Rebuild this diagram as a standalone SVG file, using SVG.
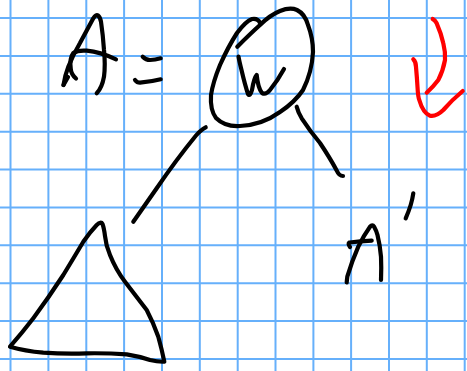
<svg xmlns="http://www.w3.org/2000/svg" width="467" height="371" viewBox="0 0 467 371">
<style>
.g{stroke:#66b0fb;stroke-width:2;fill:none}
.k{stroke:#000;stroke-width:4.2;fill:none;stroke-linecap:round;stroke-linejoin:round}
.r{stroke:#f00;stroke-width:4.2;fill:none;stroke-linecap:round;stroke-linejoin:round}
</style>
<rect width="467" height="371" fill="#fff"/>
<g id="grid" class="g">
<path d="M10.5 0V371M48.4 0V371M86.3 0V371M124.1 0V371M162 0V371M199.8 0V371M237.7 0V371M275.5 0V371M313.4 0V371M351.1 0V371M389 0V371M426.8 0V371M464.7 0V371"/>
<path d="M0 18H467M0 55.9H467M0 93.8H467M0 131.7H467M0 169.5H467M0 207.4H467M0 245.3H467M0 283.2H467M0 321H467M0 358.9H467"/>
</g>
<g id="letter-a">
<path class="k" d="M63.5 85Q65 75 68.3 66.7Q73 55 80 43Q87 30 93.3 18.3Q96 14 98 15.5Q100 17 101 21.7Q103 35 104 50Q105.5 65 104 76.7Q102 88 96.7 93.3"/>
<path class="k" d="M76 78.5Q71 74 70.7 68.3Q69.5 58 73.3 53Q78 50 86.7 50.7Q100 52 116 59.3"/>
<path class="k" d="M63.5 85L68 77"/>
</g>
<g id="equals">
<path class="k" d="M142.7 56.7Q146 60 150 60Q155 60 160.7 58.3"/>
<path class="k" d="M135 80Q137 82.7 140 82.7Q150 82 160.7 79.3"/>
</g>
<g id="circled-w">
<path class="k" d="M237.3 46.7Q250 34 260 25Q270 15 280 11Q290 7 297 10Q305 14 308 25Q313 38 313 52Q312 72 303 90Q295 102 280 112Q262 125 240 126Q225 127 216 118Q210 110 211 95Q213 82 220 65Q228 47 237 33Q246 21 252 19Q258 18 260 23"/>
<path class="k" d="M238.5 56.5Q239 60 241.5 70Q245 85 248 94Q250 97 252 90Q254 78 256.7 75Q258 88 262 93Q266 95 270 90Q278 80 284 69"/>
</g>
<g id="connectors">
<path class="k" d="M205.7 127.3Q201 129.5 196 135.5Q176 160 156.7 188.3Q145 205 133.3 221.7"/>
<path class="k" d="M296.7 106.7Q298 112 301.7 118.3Q310 131 320 143Q330 158 336.7 170.5Q339 176 343 176"/>
</g>
<g id="triangle">
<path class="k" d="M10 346.7Q22 333 33.3 318.3Q49 297 63.3 275Q73 259 83.3 241.7Q90 232 96.7 225Q101 221 102.5 224Q104 228 105 236Q106 246 110 255Q116 270 125 281.7Q136 296 146.7 310Q153 322 158.3 336.7Q162 350 164.3 361.7Q158 362 150 360Q138 356 126.7 354.3Q108 353 86.7 353.3Q65 354 43.3 352.7Q25 351 10 346.7Z"/>
</g>
<g id="a-prime">
<path class="k" d="M346.7 282.5Q347 279 347.3 276.7Q352 261 358.3 246.7Q364 235 370 226.7Q372.5 224 374 226.5Q376.5 231 377.5 235Q380 245 381 256.7Q381.5 268 381 280"/>
<path class="k" d="M350 247Q347.5 243.5 349.5 242.5Q360 241.5 371.7 240.7"/>
<path class="k" d="M413.3 193.3Q412.5 199 410.7 205Q408.5 212 405.7 218.3"/>
</g>
<g id="red-arrow">
<path class="r" d="M432.7 19Q435 20 436.7 23.3Q441 33 443.3 43.3Q445.5 52 445 60Q443 71 438.3 80Q433 87 426.7 92.7"/>
<path class="r" d="M413.3 59.3Q416 62 416 67Q417 78 417.5 87Q418 97 419.3 100Q423 113 430 115.7Q436 117 443.3 110Q452 100 462.7 91"/>
</g>
</svg>
